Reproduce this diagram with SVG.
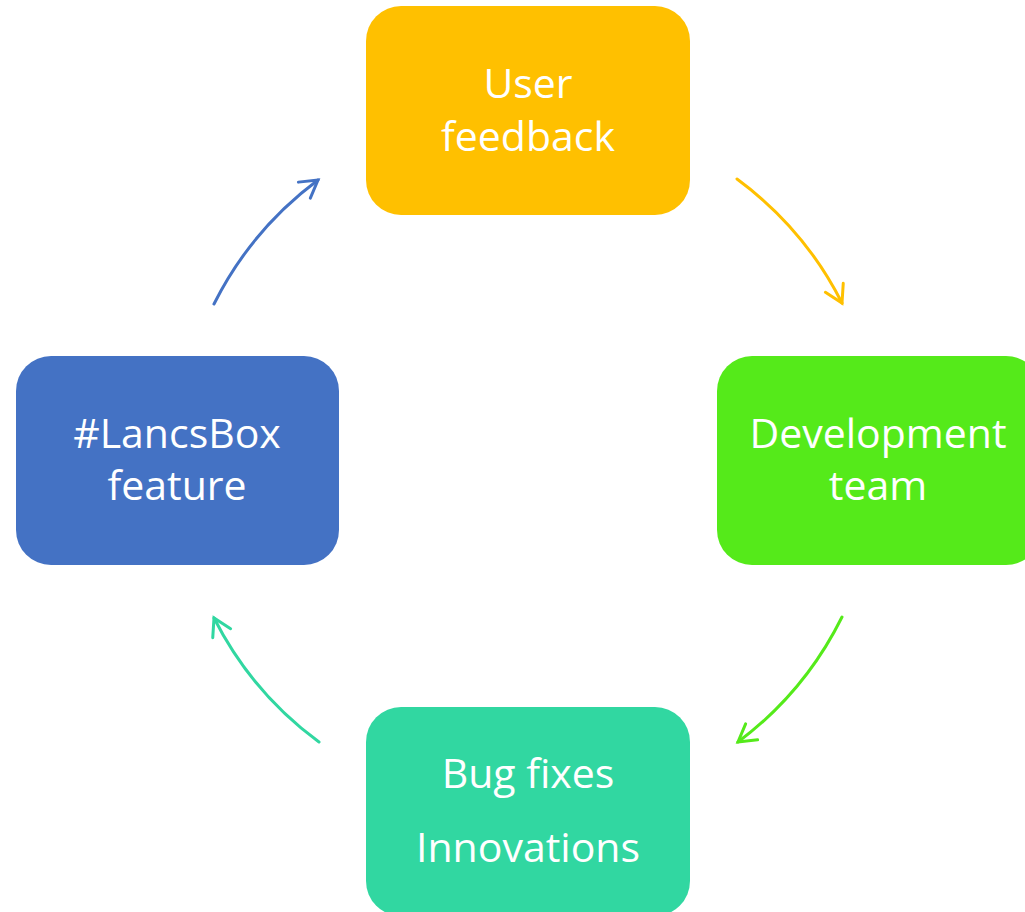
<svg xmlns="http://www.w3.org/2000/svg" width="1025" height="912" viewBox="0 0 1025 912">
<style>
.box{stroke:none}
.lbl{font-family:"Open Sans","Noto Sans","Liberation Sans",sans-serif;font-size:41px;fill:#FFFFFF;text-anchor:middle}
.conn{fill:none;stroke-width:3;stroke-linecap:round}
</style>
<defs>
<marker id="ahY" markerUnits="userSpaceOnUse" markerWidth="30" markerHeight="30" refX="0" refY="0" viewBox="-20 -15 25 30" orient="auto"><path d="M-17,-10 L0,0 L-17,10" fill="none" stroke="#FFC000" stroke-width="3" stroke-linecap="round"/></marker>
<marker id="ahG" markerUnits="userSpaceOnUse" markerWidth="30" markerHeight="30" refX="0" refY="0" viewBox="-20 -15 25 30" orient="auto"><path d="M-17,-10 L0,0 L-17,10" fill="none" stroke="#55EA1A" stroke-width="3" stroke-linecap="round"/></marker>
<marker id="ahT" markerUnits="userSpaceOnUse" markerWidth="30" markerHeight="30" refX="0" refY="0" viewBox="-20 -15 25 30" orient="auto"><path d="M-17,-10 L0,0 L-17,10" fill="none" stroke="#31D7A1" stroke-width="3" stroke-linecap="round"/></marker>
<marker id="ahB" markerUnits="userSpaceOnUse" markerWidth="30" markerHeight="30" refX="0" refY="0" viewBox="-20 -15 25 30" orient="auto"><path d="M-17,-10 L0,0 L-17,10" fill="none" stroke="#4472C4" stroke-width="3" stroke-linecap="round"/></marker>
</defs>
<rect width="1025" height="912" fill="#FFFFFF"/>
<g id="connectors">
<path class="conn" stroke="#FFC000" d="M737,179 A350,350 0 0 1 842,303" marker-end="url(#ahY)"/>
<path class="conn" stroke="#55EA1A" d="M842,617 A350,350 0 0 1 738,742" marker-end="url(#ahG)"/>
<path class="conn" stroke="#31D7A1" d="M319,742 A350,350 0 0 1 214,618" marker-end="url(#ahT)"/>
<path class="conn" stroke="#4472C4" d="M214,304 A350,350 0 0 1 318,180" marker-end="url(#ahB)"/>
</g>
<g id="node-user-feedback">
<rect class="box" x="366" y="6" width="324" height="209" rx="35" fill="#FFC000"/>
<text class="lbl" x="528" y="98">User</text>
<text class="lbl" x="528" y="151">feedback</text>
</g>
<g id="node-development-team">
<rect class="box" x="717" y="356" width="324" height="209" rx="35" fill="#55EA1A"/>
<text class="lbl" x="878" y="448">Development</text>
<text class="lbl" x="878" y="500">team</text>
</g>
<g id="node-bug-fixes">
<rect class="box" x="366" y="707" width="324" height="209" rx="35" fill="#31D7A1"/>
<text class="lbl" x="528" y="788">Bug fixes</text>
<text class="lbl" x="528" y="862">Innovations</text>
</g>
<g id="node-lancsbox-feature">
<rect class="box" x="16" y="356" width="323" height="209" rx="35" fill="#4472C4"/>
<text class="lbl" x="177" y="448">#LancsBox</text>
<text class="lbl" x="177" y="500">feature</text>
</g>
</svg>
